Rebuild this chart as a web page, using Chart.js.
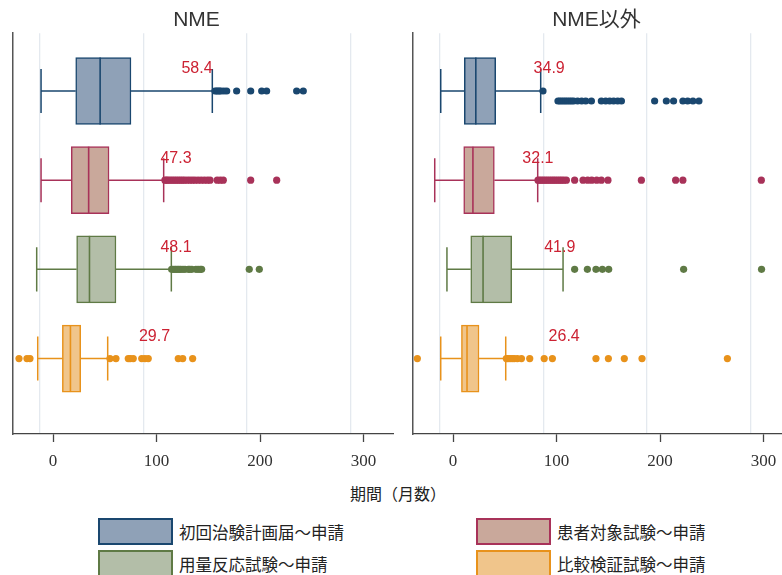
<!DOCTYPE html>
<html>
<head>
<meta charset="utf-8">
<script src="https://cdn.jsdelivr.net/npm/chart.js@4/dist/chart.umd.min.js"></script>
<style>
  html, body { margin: 0; padding: 0; background: #fff; }
  body { width: 782px; height: 575px; overflow: hidden; position: relative;
         font-family: 'Noto Sans CJK JP', 'Liberation Sans', sans-serif; }
  .panel { position: absolute; top: 0; width: 400px; height: 474px; }
  .axis-title { position: absolute; left: 0; width: 796px; top: 481px; text-align: center;
                font-size: 16px; color: #222; line-height: 24px; }
  .legend-item { position: absolute; height: 27px; display: flex; align-items: center; }
  .legend-swatch { width: 71px; height: 23px; border: 2px solid; margin-right: 6px; }
  .legend-text { font-size: 16.5px; color: #222; white-space: nowrap; }
</style>
</head>
<body>
<div class="panel" style="left:0"><canvas id="c1" width="400" height="474"></canvas></div>
<div class="panel" style="left:400px"><canvas id="c2" width="400" height="474"></canvas></div>
<div class="axis-title" id="xtitle"></div>
<div id="legend"></div>
<script>
// Groups (one box per row, top to bottom) and panel titles
const groups = ['初回治験計画届～申請', '患者対象試験～申請', '用量反応試験～申請', '比較検証試験～申請'];
const panels = ['NME', 'NME以外'];
const axisTitle = '期間（月数）';
const tickValues = [0, 100, 200, 300];

// NME: whisker ends, quartiles, medians (months)
const nmeLow    = [1.3, 1.3, -2.9, -1.9];
const nmeQ1     = [34.8, 30.5, 35.7, 21.9];
const nmeMedian = [58.4, 47.3, 48.1, 29.7];
const nmeQ3     = [88.2, 67.0, 73.7, 39.6];
const nmeHigh   = [166.8, 119.8, 127.2, 65.7];
const nmeOutliers = [
  [169.4, 171, 172.3, 173.8, 175.2, 178, 180.7, 190.3, 203.9, 214.5, 219.3, 248.3, 254.7],
  [121, 122.5, 124, 126, 128, 130, 132, 134, 136, 138, 140, 142.5, 145, 147.5, 150, 153, 156, 159, 162, 164.6, 171.5, 174.5, 177.4, 203.9, 229],
  [127.5, 129, 130.7, 132, 133.6, 135, 136.5, 138.5, 140.4, 143.6, 145, 147, 151, 153, 155, 156.5, 202.5, 212.2],
  [-20, -12.3, -9.4, 67.9, 73.7, 85.6, 87.5, 90.4, 98.6, 101.7, 104.9, 133.9, 138.2, 147.8]
];
const nmeLabelX = [152, 131.7, 131.7, 110.9];

// NME以外: whisker ends, quartiles, medians (months)
const otherLow    = [1.0, -4.8, 7.0, 1.0];
const otherQ1     = [23.8, 23.2, 30.0, 21.0];
const otherMedian = [34.9, 32.1, 41.9, 26.4];
const otherQ3     = [54.1, 52.8, 69.6, 38.0];
const otherHigh   = [97.6, 94.7, 119.2, 63.8];
const otherOutliers = [
  [99.8],
  [95, 96.8, 98.6, 100.5, 102.4, 104.3, 106.3, 108.2, 110.1, 112, 114, 116, 117.9, 120, 122.4, 130.4, 138.5, 143, 146.9, 151.7, 156.2, 162.6, 194.9, 228, 235, 310.8],
  [130.4, 142.7, 151, 157.2, 163.3, 235.7, 311],
  [-21.6, 64.4, 66, 68, 70, 72, 75, 79, 87, 101, 108.9, 151, 163, 178.4, 195.5, 278]
];
// far outliers of the first group, plotted on a line just below its whisker
const otherFirstLowerRow = [114.3, 116, 117.9, 119.8, 121.7, 123.6, 125.6, 127.5, 129.5, 133.3, 137.2, 141.1, 146.6,
  156.2, 160.4, 164.3, 168.1, 172, 175.6, 207.7, 219, 226, 235, 239.6, 244.7, 250.5];
const otherLabelX = [105.8, 94.9, 116, 120.3];

// Styling
const edgeColors = ['#1a476f', '#a83259', '#5f7a45', '#e8921b'];
const fillColors = ['#8fa1b7', '#c9a89b', '#b3bea8', '#f0c58b'];
const labelColor = '#cc2233';
const X_MIN = -25.8, X_MAX = 341.4;   // data range shown in each panel
const TICK_SHIFT = 12.9;             // labelled axis sits this far right of the grid
const Y_MIN = 0.352, Y_MAX = 4.846;
const CAP_HALF = 0.247;              // whisker cap half-height, in row units
const LOWER_ROW = 0.112;             // offset of the lower outlier line

const boxParts = {
  id: 'boxParts',
  beforeDatasetsDraw(chart, args, opts) {
    const { ctx, scales: { x, y } } = chart;
    const s = opts.stats;
    ctx.save();
    ctx.lineWidth = 1.5;
    for (let i = 0; i < s.med.length; i++) {
      const yc = y.getPixelForValue(i + 1);
      const yt = y.getPixelForValue(i + 1 - CAP_HALF);
      const yb = y.getPixelForValue(i + 1 + CAP_HALF);
      const xl = x.getPixelForValue(s.low[i]);
      const xq1 = x.getPixelForValue(s.q1[i]);
      const xq3 = x.getPixelForValue(s.q3[i]);
      const xh = x.getPixelForValue(s.high[i]);
      ctx.strokeStyle = edgeColors[i];
      ctx.beginPath();
      ctx.moveTo(xl, yc); ctx.lineTo(xq1, yc);
      ctx.moveTo(xq3, yc); ctx.lineTo(xh, yc);
      ctx.moveTo(xl, yt); ctx.lineTo(xl, yb);
      ctx.moveTo(xh, yt); ctx.lineTo(xh, yb);
      ctx.stroke();
    }
    ctx.restore();
  },
  afterDatasetsDraw(chart, args, opts) {
    const { ctx, scales: { x, y } } = chart;
    const s = opts.stats;
    const bar = chart.getDatasetMeta(0);
    ctx.save();
    for (let i = 0; i < s.med.length; i++) {
      const el = bar.data[i];
      const half = el.height / 2;
      const yc = y.getPixelForValue(i + 1);
      const xm = x.getPixelForValue(s.med[i]);
      ctx.strokeStyle = edgeColors[i];
      ctx.lineWidth = 1.6;
      ctx.beginPath();
      ctx.moveTo(xm, yc - half); ctx.lineTo(xm, yc + half);
      ctx.stroke();
      // median value label
      ctx.fillStyle = labelColor;
      ctx.font = '16px "Liberation Sans", Arial, sans-serif';
      ctx.textAlign = 'center';
      ctx.textBaseline = 'middle';
      ctx.fillText(s.med[i].toFixed(1), x.getPixelForValue(s.labelX[i]), yc - 22);
    }
    ctx.restore();
  }
};

function makePanel(canvasId, title, low, q1, med, q3, high, outliers, labelX, lowerRow) {
  const datasets = [{
    type: 'bar',
    indexAxis: 'y',
    xAxisID: 'x',
    yAxisID: 'y',
    data: q1.map((v, i) => ({ x: [v, q3[i]], y: i + 1 })),
    backgroundColor: fillColors,
    borderColor: edgeColors,
    borderWidth: 1.5,
    borderSkipped: false,
    barThickness: 67,
    order: 2
  }];
  outliers.forEach((vals, i) => {
    datasets.push({
      type: 'scatter',
      xAxisID: 'x',
      yAxisID: 'y',
      data: vals.map(v => ({ x: v, y: i + 1 })),
      backgroundColor: edgeColors[i],
      borderWidth: 0,
      pointRadius: 3.6,
      order: 1
    });
  });
  if (lowerRow) {
    datasets.push({
      type: 'scatter',
      xAxisID: 'x',
      yAxisID: 'y',
      data: lowerRow.map(v => ({ x: v, y: 1 + LOWER_ROW })),
      backgroundColor: edgeColors[0],
      borderWidth: 0,
      pointRadius: 3.6,
      order: 1
    });
  }
  return new Chart(document.getElementById(canvasId), {
    type: 'bar',
    data: { datasets },
    plugins: [boxParts],
    options: {
      responsive: false,
      animation: false,
      devicePixelRatio: 1,
      layout: { padding: { left: 0, right: 7, top: 0, bottom: 0 } },
      plugins: {
        legend: { display: false },
        tooltip: { enabled: false },
        title: {
          display: true,
          text: title,
          color: '#333',
          font: { family: '"Liberation Sans", "Noto Sans CJK JP", sans-serif', size: 21, weight: 'normal' },
          padding: { top: 8, bottom: 0 }
        },
        boxParts: { stats: { low, q1, med, q3, high, labelX } }
      },
      scales: {
        x: {
          type: 'linear',
          position: 'bottom',
          offset: false,
          min: X_MIN,
          max: X_MAX,
          afterBuildTicks: s => { s.ticks = tickValues.map(v => ({ value: v })); },
          ticks: { display: false },
          grid: { color: '#e4e9ef', lineWidth: 1.3, drawTicks: false, offset: false },
          border: { display: false },
          afterFit: s => { s.height = 0; }
        },
        xt: {
          type: 'linear',
          position: 'bottom',
          offset: false,
          min: X_MIN - TICK_SHIFT,
          max: X_MAX - TICK_SHIFT,
          afterBuildTicks: s => { s.ticks = tickValues.map(v => ({ value: v })); },
          ticks: {
            color: '#333',
            padding: 9,
            font: { family: '"Liberation Serif", "DejaVu Serif", serif', size: 17 }
          },
          grid: { drawOnChartArea: false, drawTicks: true, tickLength: 8, color: '#444', tickWidth: 1.3, offset: false },
          border: { display: true, color: '#444', width: 1.3 },
          afterFit: s => { s.height = 40; }
        },
        y: {
          type: 'linear',
          reverse: true,
          offset: false,
          min: Y_MIN,
          max: Y_MAX,
          ticks: { display: false },
          grid: { display: false, drawTicks: false, offset: false },
          border: { display: true, color: '#555', width: 1.5 },
          afterFit: s => { s.width = 13; }
        }
      }
    }
  });
}

makePanel('c1', panels[0], nmeLow, nmeQ1, nmeMedian, nmeQ3, nmeHigh, nmeOutliers, nmeLabelX, null);
makePanel('c2', panels[1], otherLow, otherQ1, otherMedian, otherQ3, otherHigh, otherOutliers, otherLabelX, otherFirstLowerRow);

// Shared axis title and legend
document.getElementById('xtitle').textContent = axisTitle;
const legend = document.getElementById('legend');
const legendLeft = [98, 476];
const legendTop = [518, 550];
groups.forEach((name, i) => {
  const item = document.createElement('div');
  item.className = 'legend-item';
  item.style.left = legendLeft[i % 2] + 'px';
  item.style.top = legendTop[Math.floor(i / 2)] + 'px';
  const sw = document.createElement('div');
  sw.className = 'legend-swatch';
  sw.style.background = fillColors[i];
  sw.style.borderColor = edgeColors[i];
  const tx = document.createElement('span');
  tx.className = 'legend-text';
  tx.textContent = name;
  item.appendChild(sw);
  item.appendChild(tx);
  legend.appendChild(item);
});
</script>
</body>
</html>
